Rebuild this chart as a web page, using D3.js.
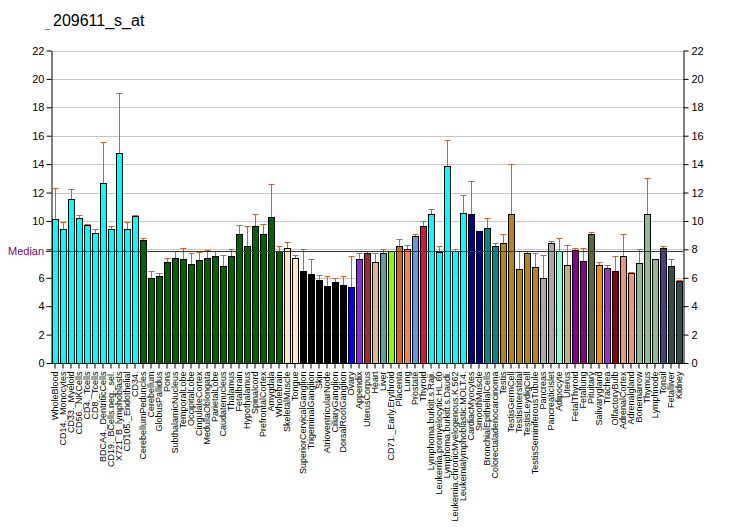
<!DOCTYPE html>
<html><head><meta charset="utf-8">
<script src="https://cdn.jsdelivr.net/npm/d3@7"></script>
<style>body{margin:0;background:#fff}svg{display:block}text{font-family:Arial,"Liberation Sans",sans-serif}</style>
</head><body><svg id="c" width="732" height="530"></svg>
<script>
const categories = ["WholeBlood","CD14._Monocytes","CD33._Myeloid","CD56._NKCells","CD4._Tcells","CD8._Tcells","BDCA4._DentriticCells","CD19._BCells.neg._sel.","X721_B_lymphoblasts","CD105._Endothelial","CD34.","CerebellumPeduncles","Cerebellum","GlobusPallidus","Pons","SubthalamicNucleus","TemporalLobe","OccipitalLobe","CingulateCortex","MedullaOblongata","ParietalLobe","Caudatenucleus","Thalamus","Fetalbrain","Hypothalamus","Spinalcord","PrefrontalCortex","Amygdala","Wholebrain","SkeletalMuscle","Tongue","SuperiorCervicalGanglion","TrigeminalGanglion","Skin","AtrioventricularNode","CiliaryGanglion","DorsalRootGanglion","Ovary","Appendix","UterusCorpus","Heart","Liver","CD71._Early.Erythroid","Placenta","Lung","Prostate","Thyroid","Lymphoma.burkitt.s.Raji.","Leukemia.promyelocytic.HL.60","Lymphoma.burkitt.s.Daudi.","Leukemia.chronicMyelogenous.K.562","Leukemialymphoblastic.MOLT.4.","CardiacMyocytes","SmoothMuscle","BronchialEpithelialCells","Colorectaladenocarcinoma","Testis","TestisGermCell","TestisInterstitial","TestisLeydigCell","TestisSeminiferousTubule","Pancreas","PancreaticIslet","Adipocyte","Uterus","FetalThyroid","Fetallung","Pituitary","Salivarygland","Trachea","OlfactoryBulb","AdrenalCortex","Adrenalgland","Bonemarrow","Thymus","Lymphnode","Tonsil","Fetalliver","Kidney"];
const values = [10.13,9.43,11.54,10.2,9.71,9.15,12.66,9.43,14.77,9.43,10.34,8.65,5.98,6.12,7.13,7.39,7.32,6.97,7.25,7.39,7.53,6.82,7.53,9.08,8.23,9.64,9.08,10.27,7.88,8.09,7.39,6.5,6.26,5.86,5.44,5.7,5.49,5.35,7.32,7.74,7.11,7.74,7.88,8.23,8.02,8.94,9.64,10.48,7.81,13.86,7.88,10.55,10.48,9.29,9.5,8.23,8.44,10.48,6.61,7.74,6.75,5.98,8.44,7.88,6.9,7.95,7.18,9.08,6.9,6.68,6.47,7.53,6.33,7.04,10.48,7.32,8.09,6.82,5.77];
const errTops = [12.31,9.9,12.24,10.41,9.78,9.43,15.55,9.64,19.0,9.92,10.41,8.79,6.47,6.33,7.39,7.9,8.09,7.74,7.83,7.93,7.9,7.6,8.02,9.71,9.64,10.48,9.78,12.59,8.23,8.51,7.6,8.02,7.32,6.19,6.12,5.98,6.12,7.53,7.74,7.88,7.74,8.02,7.9,8.72,8.3,9.08,9.99,10.83,8.23,15.69,8.02,11.82,12.8,9.29,10.2,8.44,9.08,14.0,7.88,7.88,7.74,7.6,8.58,8.79,8.3,8.09,8.09,9.22,7.11,6.9,7.53,9.08,6.4,8.02,13.02,7.32,8.23,7.32,5.84];
const colors = ["#00FFFF","#00FFFF","#00FFFF","#00FFFF","#00FFFF","#00FFFF","#00FFFF","#00FFFF","#00FFFF","#00FFFF","#00FFFF",
"#006400","#006400","#006400","#006400","#006400","#006400","#006400","#006400","#006400","#006400","#006400","#006400","#006400","#006400","#006400","#006400","#006400","#006400",
"#FFE4C4","#FFE4C4","#000000","#000000","#000000","#000000","#000000","#000000","#0000FF","#8A2BE2","#A52A2A","#DEB887","#5F9EA0","#7FFF00","#D2691E","#FF7F50","#6495ED","#DC143C",
"#00FFFF","#00FFFF","#00FFFF","#00FFFF","#00FFFF","#00008B","#00008B","#008B8B","#008B8B",
"#B8860B","#B8860B","#B8860B","#B8860B","#B8860B","#A9A9A9","#A9A9A9","#7FFFD4","#BDB76B","#8B008B","#8B008B","#556B2F","#FF8C00","#9932CC","#8B0000","#E9967A","#E9967A","#8FBC8F","#8FBC8F","#8FBC8F","#483D8B","#2F4F4F","#2F4F4F"];
const yTicks = [0,2,4,6,8,10,12,14,16,18,20,22];
const median = 7.88;
const title = "209611_s_at";

const svg = d3.select("#c");
const L = 51, R = 683, T = 50.5, B = 363;
const x = d3.scaleBand().domain(categories).range([L, R]).paddingInner(0.2).paddingOuter(0.1);
const y = d3.scaleLinear().domain([0, 22]).range([B, T]);

// grid
svg.append("g").selectAll("line").data(yTicks.filter(d=>d>0)).join("line")
  .attr("x1", L).attr("x2", R).attr("y1", d=>Math.round(y(d))+0.5).attr("y2", d=>Math.round(y(d))+0.5)
  .attr("stroke", "#C8C8C8").attr("stroke-width", 1);

// error bars
const eg = svg.append("g");
categories.forEach((c,i)=>{
  const cx = Math.round(x(c) + x.bandwidth()/2) + 0.5;
  if (errTops[i] > values[i] + 0.01) {
    eg.append("line").attr("x1",cx).attr("x2",cx).attr("y1",y(values[i])).attr("y2",y(errTops[i])).attr("stroke","#C8642D").attr("stroke-width",1);
    eg.append("line").attr("x1",cx-3).attr("x2",cx+3).attr("y1",Math.round(y(errTops[i]))+0.5).attr("y2",Math.round(y(errTops[i]))+0.5).attr("stroke","#C8642D").attr("stroke-width",1);
  }
});

// bars
svg.append("g").selectAll("rect").data(categories).join("rect")
  .attr("x", d=>Math.round(x(d))+0.5).attr("width", Math.round(x.bandwidth()))
  .attr("y", (d,i)=>Math.round(y(values[i]))+0.5).attr("height", (d,i)=>B - Math.round(y(values[i])))
  .attr("fill", (d,i)=>colors[i]).attr("stroke", "#000").attr("stroke-width", 1);

// median
svg.append("line").attr("x1", 46).attr("x2", R).attr("y1", Math.round(y(median))+0.5).attr("y2", Math.round(y(median))+0.5)
  .attr("stroke", "#800080").attr("stroke-width", 1);
svg.append("text").attr("x", 8).attr("y", y(median)+4).text("Median").attr("fill", "#800080").attr("font-size", 11);

// axes
const la = svg.append("g").attr("transform", `translate(${L+0.5},0)`).call(d3.axisLeft(y).tickValues(yTicks).tickFormat(d => d === 8 ? "" : d).tickSize(5).tickSizeOuter(0));
const ra = svg.append("g").attr("transform", `translate(${R+0.5},0)`).call(d3.axisRight(y).tickValues(yTicks).tickSize(5).tickSizeOuter(0));
[la, ra].forEach(a=>{ a.selectAll("text").attr("font-size", 11).attr("fill","#000"); a.select(".domain").attr("stroke","#000"); a.selectAll("line").attr("stroke","#000"); });
la.selectAll("text").attr("x", -7);
ra.selectAll("text").attr("x", 8);

const xa = svg.append("g").attr("transform", `translate(0,${B+0.5})`).call(d3.axisBottom(x).tickSize(5).tickSizeOuter(0));
xa.select(".domain").attr("stroke","#000").attr("d", `M${L},0H${R+0.5}`);
xa.selectAll(".tick line").attr("stroke","#000");
xa.selectAll("text").attr("font-size", 9).attr("fill","#000")
  .attr("transform", "rotate(-90)").attr("text-anchor","end").attr("x", -8).attr("y", 0).attr("dy", "0.32em");

// title
svg.append("text").attr("x", 45).attr("y", 28).text("_").attr("fill","#800080").attr("font-size", 9);
svg.append("text").attr("x", 53).attr("y", 26).text(title).attr("font-size", 16).attr("fill","#000");
</script></body></html>
